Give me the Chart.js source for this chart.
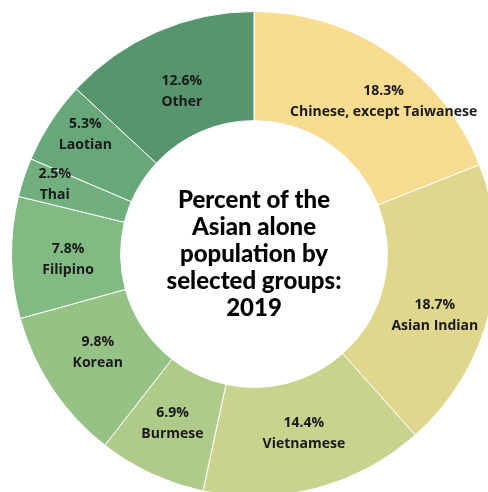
<!DOCTYPE html>
<html>
<head>
<meta charset="utf-8">
<script src="https://cdn.jsdelivr.net/npm/chart.js@4.4.1/dist/chart.umd.min.js"></script>
<style>
    html, body { margin: 0; padding: 0; background: #fff; overflow: hidden; }
    #wrap { position: absolute; left: 0; top: 0; width: 508px; height: 508px; }
</style>
</head>
<body>
<div id="wrap"><canvas id="groupsChart"></canvas></div>
<script>
// Data
const groups = ['Chinese, except Taiwanese', 'Asian Indian', 'Vietnamese', 'Burmese', 'Korean', 'Filipino', 'Thai', 'Laotian', 'Other'];
const percents = [18.3, 18.7, 14.4, 6.9, 9.8, 7.8, 2.5, 5.3, 12.6];
const titleLines = ['Percent of the', 'Asian alone', 'population by', 'selected groups:', '2019'];

const sliceColors = ['#F7DC91', '#DFD78D', '#C9D38E', '#AFCB89', '#97C285', '#82BA83', '#72AF7F', '#68A77A', '#56956D'];
// small nudges of the labels away from the slice centre (px)
const labelNudge = [[24, 3], [-2, 18], [2, -2], [-2, -1], [0, -6], [2, 3], [-21, -10], [-11, -17], [3, 10]];

// Draws "xx.x%" + name in each slice
const sliceLabels = {
    id: 'sliceLabels',
    afterDatasetsDraw(chart) {
        const ctx = chart.ctx;
        const arcs = chart.getDatasetMeta(0).data;
        ctx.save();
        ctx.fillStyle = '#1a1a1a';
        ctx.textAlign = 'center';
        ctx.textBaseline = 'middle';
        ctx.font = "bold 14px 'Open Sans'";
        arcs.forEach((arc, i) => {
            const pos = arc.tooltipPosition();
            const x = pos.x + labelNudge[i][0];
            const y = pos.y + labelNudge[i][1];
            ctx.fillText(percents[i].toFixed(1) + '%', x, y - 10.5);
            ctx.fillText(groups[i], x, y + 10.5);
        });
        ctx.restore();
    }
};

// Title in the hole
const centerTitle = {
    id: 'centerTitle',
    afterDraw(chart) {
        const ctx = chart.ctx;
        const arc = chart.getDatasetMeta(0).data[0];
        ctx.save();
        ctx.fillStyle = '#000';
        ctx.textAlign = 'center';
        ctx.textBaseline = 'middle';
        ctx.font = "900 24px Lato";
        const lh = 27;
        const top = arc.y - lh * (titleLines.length - 1) / 2;
        titleLines.forEach((t, i) => ctx.fillText(t, arc.x, top + i * lh));
        ctx.restore();
    }
};

new Chart(document.getElementById('groupsChart'), {
    type: 'doughnut',
    data: {
        labels: groups,
        datasets: [{
            data: percents,
            backgroundColor: sliceColors,
            borderColor: '#ffffff',
            borderWidth: 1,
            hoverOffset: 0
        }]
    },
    options: {
        responsive: true,
        maintainAspectRatio: false,
        animation: false,
        cutout: '55%',
        layout: { padding: 11 },
        plugins: {
            legend: { display: false },
            tooltip: { enabled: false }
        }
    },
    plugins: [sliceLabels, centerTitle]
});
</script>
</body>
</html>
